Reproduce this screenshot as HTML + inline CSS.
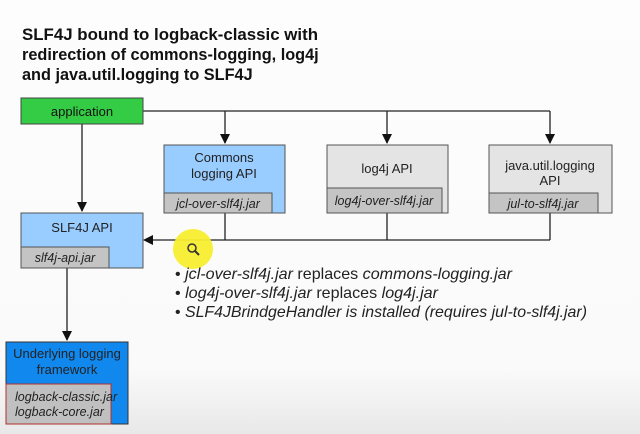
<!DOCTYPE html>
<html><head><style>
body{margin:0;width:640px;height:434px;overflow:hidden;background:#fdfdfd;}
svg{display:block;font-family:"Liberation Sans",Arial,sans-serif;}
</style></head><body>
<svg width="640" height="434" viewBox="0 0 640 434">
<defs>
<linearGradient id="bg" x1="0" y1="0" x2="0" y2="1">
<stop offset="0" stop-color="#fdfdfd"/><stop offset="0.85" stop-color="#fafafa"/><stop offset="1" stop-color="#e8e8e8"/>
</linearGradient>
<marker id="ar" markerWidth="10" markerHeight="10" refX="9" refY="5" orient="auto" markerUnits="userSpaceOnUse">
<path d="M0,0 L10,5 L0,10 z" fill="#111"/></marker>
</defs>
<rect width="640" height="434" fill="url(#bg)"/>
<g font-weight="bold" font-size="16.3" fill="#111">
<text x="22" y="40" textLength="296" lengthAdjust="spacingAndGlyphs">SLF4J bound to logback-classic with</text>
<text x="22" y="60">redirection of commons-logging, log4j</text>
<text x="22" y="80">and java.util.logging to SLF4J</text>
</g>
<g stroke="#222" stroke-width="1.3" fill="none">
<path d="M143,111 H550"/>
<path d="M225,111 V143" marker-end="url(#ar)"/>
<path d="M387,111 V143" marker-end="url(#ar)"/>
<path d="M550,111 V143" marker-end="url(#ar)"/>
<path d="M82,124 V211" marker-end="url(#ar)"/>
<path d="M225,213 V240 M387,213 V240 M550,213 V240 M550,240 H146" />
<path d="M67,268 V340" marker-end="url(#ar)"/>
</g>
<path d="M143,240 L153,235 L153,245 z" fill="#111"/>
<rect x="21" y="98" width="122" height="26" fill="#33cc44" stroke="#444"/>
<text x="82" y="116" font-size="13" text-anchor="middle" fill="#111">application</text>
<rect x="164" y="145" width="121" height="68" fill="#99ccff" stroke="#555"/>
<rect x="164" y="193" width="108" height="20" fill="#c4c4c4" stroke="#555"/>
<text x="224" y="162" font-size="13" text-anchor="middle" fill="#222">Commons</text>
<text x="224" y="178" font-size="13" text-anchor="middle" fill="#222">logging API</text>
<text x="218" y="208" font-size="12.5" font-style="italic" text-anchor="middle" fill="#222">jcl-over-slf4j.jar</text>
<rect x="327" y="145" width="121" height="68" fill="#e4e4e4" stroke="#555"/>
<rect x="327" y="188" width="115" height="25" fill="#c4c4c4" stroke="#555"/>
<text x="387" y="173" font-size="13" text-anchor="middle" fill="#222">log4j API</text>
<text x="384" y="205" font-size="12.5" font-style="italic" text-anchor="middle" fill="#222">log4j-over-slf4j.jar</text>
<rect x="489" y="145" width="123" height="68" fill="#e4e4e4" stroke="#555"/>
<rect x="489" y="193" width="109" height="20" fill="#c4c4c4" stroke="#555"/>
<text x="550" y="170" font-size="13" text-anchor="middle" fill="#222">java.util.logging</text>
<text x="550" y="185" font-size="13" text-anchor="middle" fill="#222">API</text>
<text x="543" y="208" font-size="12.5" font-style="italic" text-anchor="middle" fill="#222">jul-to-slf4j.jar</text>
<rect x="21" y="213" width="122" height="55" fill="#99ccff" stroke="#555"/>
<rect x="21" y="247" width="88" height="21" fill="#c4c4c4" stroke="#555"/>
<text x="82" y="232" font-size="13" text-anchor="middle" fill="#222">SLF4J API</text>
<text x="65" y="262" font-size="12.5" font-style="italic" text-anchor="middle" fill="#222">slf4j-api.jar</text>
<rect x="6" y="342" width="122" height="82" fill="#1188ee" stroke="#333"/>
<rect x="6" y="384" width="105" height="40" fill="#c0c0c0" stroke="#b03030"/>
<text x="67" y="358" font-size="13" text-anchor="middle" fill="#222">Underlying logging</text>
<text x="67" y="374" font-size="13" text-anchor="middle" fill="#222">framework</text>
<text x="15" y="401" font-size="12.5" font-style="italic" fill="#222">logback-classic.jar</text>
<text x="15" y="416" font-size="12.5" font-style="italic" fill="#222">logback-core.jar</text>
<circle cx="193" cy="249" r="20" fill="#f8ee30" opacity="0.95"/>
<circle cx="192" cy="248" r="4" fill="none" stroke="#333" stroke-width="1.5"/>
<path d="M195,251 L199,255" stroke="#333" stroke-width="2"/>
<g font-size="16" fill="#222">
<text x="175" y="279" textLength="337" lengthAdjust="spacingAndGlyphs">• <tspan font-style="italic">jcl-over-slf4j.jar</tspan> replaces <tspan font-style="italic">commons-logging.jar</tspan></text>
<text x="175" y="298" textLength="263" lengthAdjust="spacingAndGlyphs">• <tspan font-style="italic">log4j-over-slf4j.jar</tspan> replaces <tspan font-style="italic">log4j.jar</tspan></text>
<text x="175" y="317" textLength="412" lengthAdjust="spacingAndGlyphs">• <tspan font-style="italic">SLF4JBrindgeHandler is installed (requires jul-to-slf4j.jar)</tspan></text>
</g>
</svg>
</body></html>
